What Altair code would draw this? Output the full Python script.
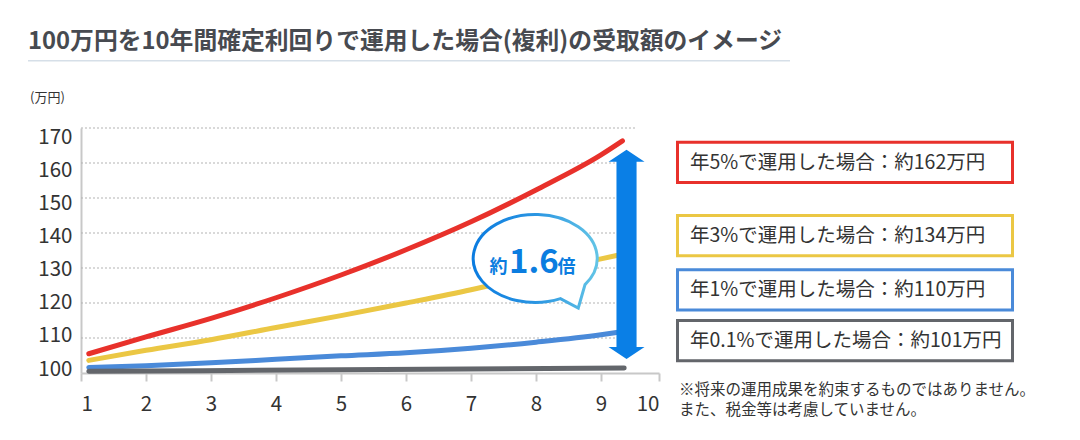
import altair as alt
import pandas as pd

# ---------------- data ----------------
SERIES = ["年5%", "年3%", "年1%", "年0.1%"]
COLORS = ["#e8312b", "#ebc744", "#4a8ad9", "#63666b"]

YEARS_5 = [1.12, 2, 3, 4, 5, 6, 7, 8, 9, 9.37]
VAL_5 = [105.5, 110.3, 115.6, 121.5, 128.0, 135.2, 143.2, 152.3, 162.3, 166.3]
YEARS_3 = [1.12, 2, 3, 4, 5, 6, 7, 8, 9, 9.33]
VAL_3 = [103.6, 106.5, 109.5, 113.0, 116.4, 120.0, 123.8, 128.2, 132.6, 133.8]
YEARS_1 = [1.12, 2, 3, 4, 5, 6, 7, 8, 9, 9.33]
VAL_1 = [101.6, 102.1, 102.9, 103.9, 104.9, 105.8, 107.1, 108.8, 110.9, 111.7]
YEARS_01 = [1.12, 5, 9.4]
VAL_01 = [100.5, 100.9, 101.4]

X_TICKS = list(range(1, 11))
Y_TICKS = [100, 110, 120, 130, 140, 150, 160, 170]

TITLE = "100万円を10年間確定利回りで運用した場合(複利)の受取額のイメージ"
UNIT = "(万円)"
LEGEND_LABELS = [
    "年5%で運用した場合：約162万円",
    "年3%で運用した場合：約134万円",
    "年1%で運用した場合：約110万円",
    "年0.1%で運用した場合：約101万円",
]
NOTE = "※将来の運用成果を約束するものではありません。\nまた、税金等は考慮していません。"
BUBBLE_PARTS = ["約", "1.6", "倍"]

# annotation anchors (data units)
ARROW_X, ARROW_TOP, ARROW_BOTTOM = 9.44, 163.8, 104.0
BUBBLE_X, BUBBLE_Y = 7.977, 132.66
GRID_END = 9.62

# ---------------- style ----------------
FONT = "Noto Sans CJK JP"
TXT = "#333333"
W, H = 578, 245
LEGEND_TOPS = [12.7, 86, 140.3, 191]
BOX_H = 43.3

xs = alt.Scale(domain=[1, 9, 10], range=[0, 520, 578])
ys = alt.Scale(domain=[100, 170], nice=False, zero=False)

AX_X = alt.Axis(
    values=X_TICKS, title=None, grid=False, domainColor="#c8c8c8", domainWidth=2,
    tickColor="#c8c8c8", tickWidth=2, tickSize=8, labelFont=FONT, labelFontSize=20.5,
    labelColor=TXT, labelPadding=13, labelFlush=True)
AX_Y = alt.Axis(
    values=Y_TICKS, title=None, grid=False, domainColor="#c8c8c8", domainWidth=2,
    ticks=False, labelFont=FONT, labelFontSize=20.5, labelColor=TXT, labelPadding=9,
    labelOffset=alt.ExprRef(expr="-4 + (datum.value - 100) * 13 / 70"))


def XE(field):
    return alt.X(field, type="quantitative", scale=xs, axis=AX_X)


def YE(field):
    return alt.Y(field, type="quantitative", scale=ys, axis=AX_Y)


rows = []
for name, xv, yv in zip(SERIES, [YEARS_5, YEARS_3, YEARS_1, YEARS_01], [VAL_5, VAL_3, VAL_1, VAL_01]):
    for a, b in zip(xv, yv):
        rows.append({"series": name, "year": a, "value": b})
lines_df = pd.DataFrame(rows)

one = pd.DataFrame({"k": [0]})

grid = alt.Chart(pd.DataFrame({"y": Y_TICKS[1:], "x0": 1, "x1": GRID_END})).mark_rule(
    color="#b3b3b3", strokeDash=[2, 2], strokeWidth=1
).encode(x=XE("x0"), x2="x1:Q", y=YE("y"))

lines = alt.Chart(lines_df).mark_line(
    strokeWidth=5, strokeCap="round", strokeJoin="round", interpolate="monotone"
).encode(
    x=XE("year"),
    y=YE("value"),
    color=alt.Color("series:N", scale=alt.Scale(domain=SERIES, range=COLORS), legend=None),
    order=alt.Order("year:Q"),
)

# double arrow
arrow_px = (ARROW_TOP - ARROW_BOTTOM) * H / (ys.domain[1] - ys.domain[0])
ARROW_PATH = ("M0,-1 L0.172,-0.885 L0.096,-0.885 L0.096,0.885 L0.172,0.885 L0,1 "
              "L-0.172,0.885 L-0.096,0.885 L-0.096,-0.885 L-0.172,-0.885 Z")
arrow = alt.Chart(pd.DataFrame({"x": [ARROW_X], "y": [(ARROW_TOP + ARROW_BOTTOM) / 2]})).mark_point(
    shape=ARROW_PATH, size=arrow_px ** 2, filled=True, color="#0a7fe6", opacity=1, strokeWidth=0
).encode(x=XE("x"), y=YE("y"))

# speech bubble
BUBBLE_PATH = "M0.815,0.419 A1,0.71 0 1 0 0.418,0.645 L0.706,0.795 Z"
grad = alt.LinearGradient(
    gradient="linear",
    stops=[alt.GradientStop(color="#0b7ce0", offset=0), alt.GradientStop(color="#2a95e2", offset=0.5),
           alt.GradientStop(color="#62c4e6", offset=1)],
    x1=0, x2=1, y1=0, y2=0,
)
bdf = pd.DataFrame({"x": [BUBBLE_X], "y": [BUBBLE_Y]})
bubble = alt.Chart(bdf).mark_point(
    shape=BUBBLE_PATH, size=124 ** 2, filled=True, fill="white", stroke=grad, strokeWidth=3, opacity=1
).encode(x=XE("x"), y=YE("y"))

btext = []
for part, dx, fs in zip(BUBBLE_PARTS, [-45, -25.5, 23], [18, 33, 18]):
    btext.append(alt.Chart(bdf).mark_text(
        text=part, font=FONT, fontWeight="bold", fontSize=fs, color="#0b7de0",
        align="left", baseline="alphabetic", dx=dx, dy=14
    ).encode(x=XE("x"), y=YE("y")))

# legend boxes
legend_layers = []
for top, col, lab in zip(LEGEND_TOPS, COLORS, LEGEND_LABELS):
    legend_layers.append(alt.Chart(one).mark_rect(fill="white", stroke=col, strokeWidth=3).encode(
        x=alt.value(596.5), x2=alt.value(931.5), y=alt.value(top + 1.5), y2=alt.value(top + BOX_H - 1.5)))
    legend_layers.append(alt.Chart(one).mark_text(
        text=lab, font=FONT, fontSize=19.5, color=TXT, align="left", baseline="middle"
    ).encode(x=alt.value(609), y=alt.value(top + BOX_H / 2 + 0.5)))

note = alt.Chart(one).mark_text(
    text=NOTE, lineBreak="\n", lineHeight=20, font=FONT, fontSize=15.5, color=TXT,
    align="left", baseline="alphabetic"
).encode(x=alt.value(598), y=alt.value(266.5))

title = alt.Chart(one).mark_text(
    text=TITLE, font=FONT, fontWeight="bold", fontSize=23.8, color="#474a50",
    align="left", baseline="alphabetic"
).encode(x=alt.value(-53), y=alt.value(-79.5))

underline = alt.Chart(one).mark_rule(color="#d6dfe8", strokeWidth=1.5).encode(
    x=alt.value(-53), x2=alt.value(709), y=alt.value(-67.3))

unit = alt.Chart(one).mark_text(
    text=UNIT, font=FONT, fontSize=13, color=TXT, align="left", baseline="middle"
).encode(x=alt.value(-51), y=alt.value(-30))

chart = alt.layer(
    grid, lines, arrow, bubble, *btext, *legend_layers, note, title, underline, unit
).properties(
    width=W, height=H,
    autosize=alt.AutoSizeParams(type="none"),
    padding={"left": 73, "top": 120, "right": 409, "bottom": 55},
    background="white",
).configure_view(stroke=None)

chart.save("out.html", embed_options={"renderer": "svg", "actions": False})
